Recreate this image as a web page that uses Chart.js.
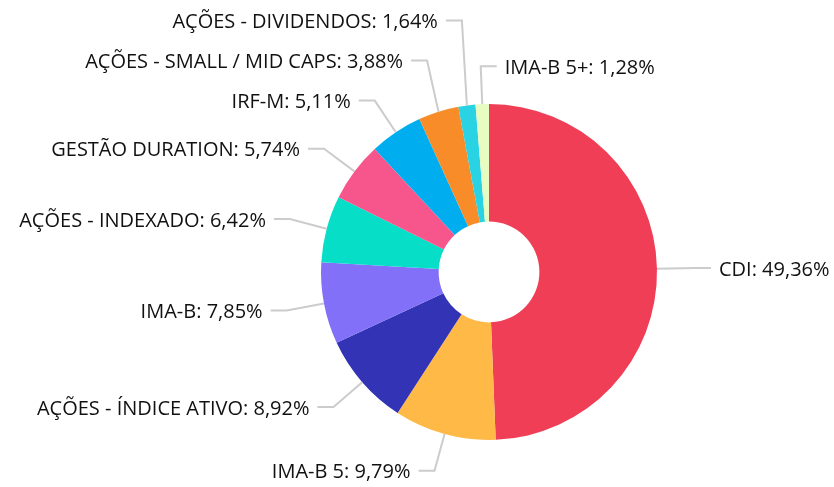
<!DOCTYPE html>
<html>
<head>
<meta charset="utf-8">
<script src="https://cdn.jsdelivr.net/npm/chart.js@4"></script>
<style>
  html, body { margin: 0; padding: 0; background: #fff; }
  #wrap { width: 834px; height: 487px; }
</style>
</head>
<body>
<div id="wrap"><canvas id="chart"></canvas></div>
<script>
const labels = [
  "CDI", "IMA-B 5", "AÇÕES - ÍNDICE ATIVO", "IMA-B", "AÇÕES - INDEXADO",
  "GESTÃO DURATION", "IRF-M", "AÇÕES - SMALL / MID CAPS", "AÇÕES - DIVIDENDOS", "IMA-B 5+"
];
const values = [49.36, 9.79, 8.92, 7.85, 6.42, 5.74, 5.11, 3.88, 1.64, 1.28];
const colors = [
  "#ef3e55", "#ffb946", "#3333b5", "#8270f8", "#07dec8",
  "#f7568c", "#00aeef", "#f78c28", "#29d3e3", "#e6fcc0"
];

const fmt = (v) => v.toFixed(2).replace(".", ",") + "%";

// labels outside the ring, with bent leader lines
const outsideLabels = {
  id: "outsideLabels",
  afterDatasetsDraw(chart) {
    const ctx = chart.ctx;
    const arcs = chart.getDatasetMeta(0).data;
    const items = arcs.map((arc, i) => {
      const p = arc.getProps(["x", "y", "startAngle", "endAngle", "outerRadius"], true);
      const mid = (p.startAngle + p.endAngle) / 2;
      const cos = Math.cos(mid), sin = Math.sin(mid);
      const r2 = p.outerRadius + 38;
      return {
        text: labels[i] + ": " + fmt(values[i]),
        right: cos > -0.05,
        sx: p.x + cos * p.outerRadius,
        sy: p.y + sin * p.outerRadius,
        ex: p.x + cos * r2,
        ey: p.y + sin * r2,
      };
    });

    // push apart labels on the same side
    const gap = 40;
    [true, false].forEach((side) => {
      const list = items.filter((it) => it.right === side).sort((a, b) => b.ey - a.ey);
      for (let k = 1; k < list.length; k++) {
        if (list[k].ey > list[k - 1].ey - gap) list[k].ey = list[k - 1].ey - gap;
      }
    });

    ctx.save();
    ctx.font = "20px 'Open Sans'";
    ctx.textBaseline = "middle";
    items.forEach((it) => {
      const hx = it.right ? it.ex + 16 : it.ex - 16;
      ctx.strokeStyle = "#cccccc";
      ctx.lineWidth = 2;
      ctx.beginPath();
      ctx.moveTo(it.sx, it.sy);
      ctx.lineTo(it.ex, it.ey);
      ctx.lineTo(hx, it.ey);
      ctx.stroke();
      ctx.fillStyle = "#111111";
      ctx.textAlign = it.right ? "left" : "right";
      ctx.fillText(it.text, it.right ? hx + 8 : hx - 8, it.ey + 2);
    });
    ctx.restore();
  },
};

new Chart(document.getElementById("chart"), {
  type: "doughnut",
  data: {
    labels: labels,
    datasets: [{ data: values, backgroundColor: colors, borderWidth: 0 }],
  },
  options: {
    responsive: true,
    maintainAspectRatio: false,
    animation: false,
    cutout: "30%",
    layout: { padding: { top: 104, bottom: 47, left: 321, right: 177 } },
    plugins: { legend: { display: false }, tooltip: { enabled: false } },
  },
  plugins: [outsideLabels],
});
</script>
</body>
</html>
